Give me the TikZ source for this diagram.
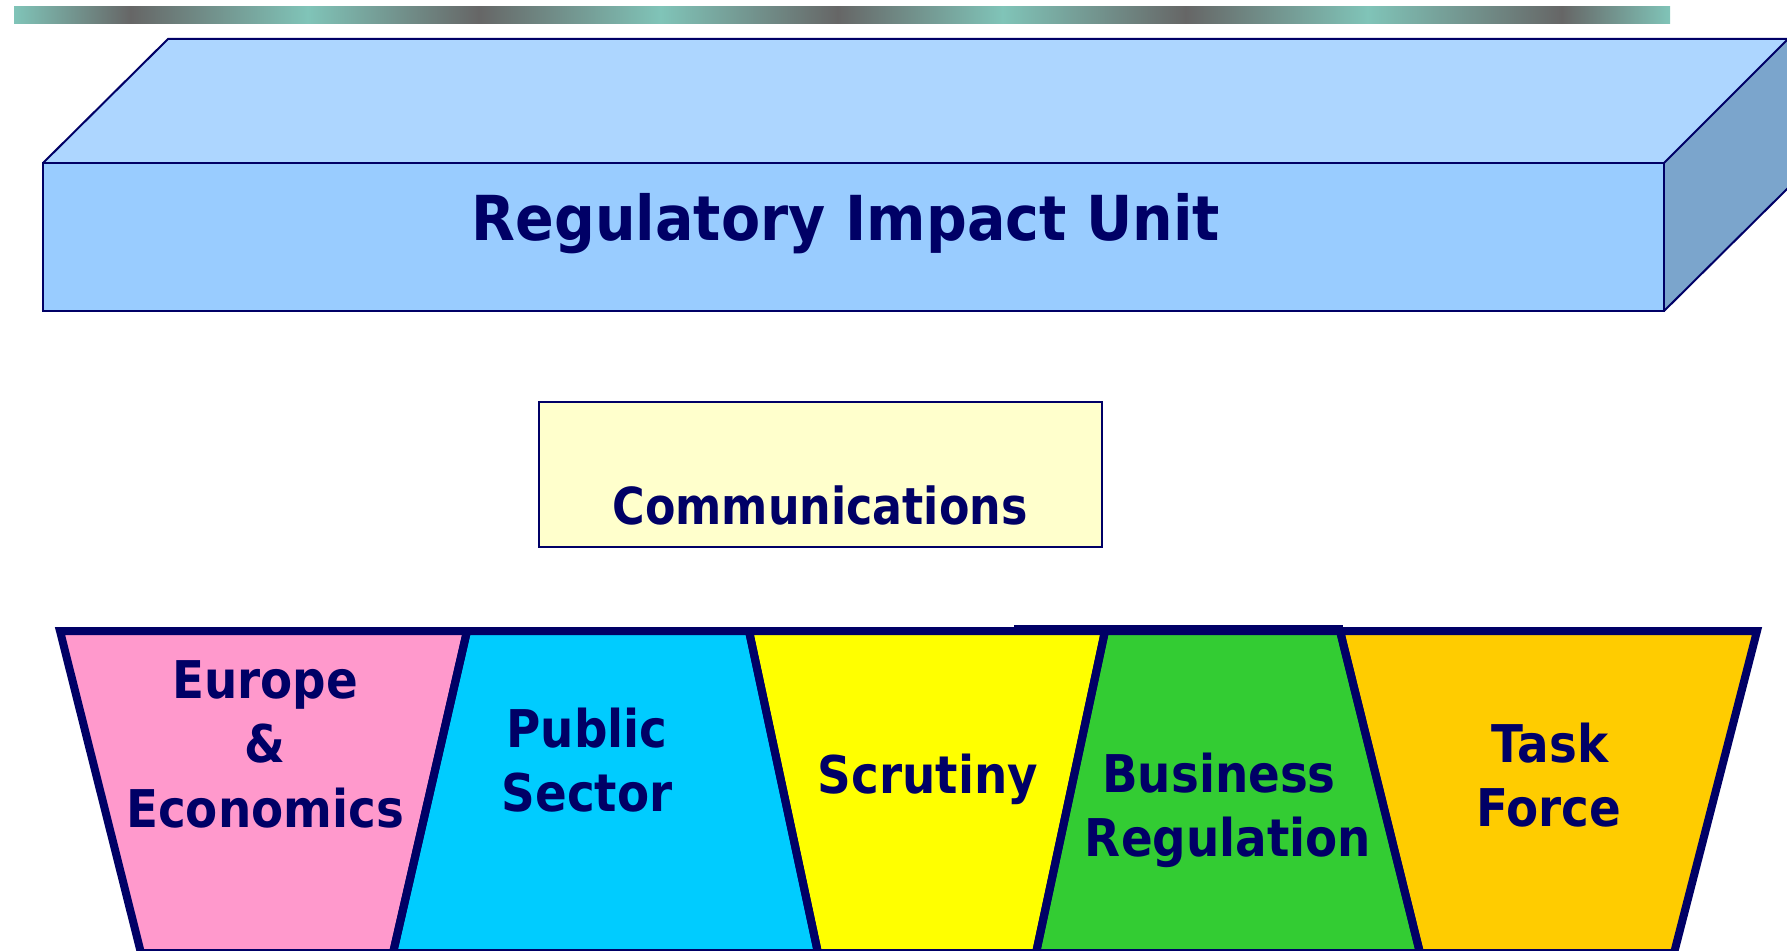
\documentclass[tikz,border=0pt]{standalone}
\usepackage{fontspec}
\newfontfamily\lblfont[FakeStretch=0.9]{DejaVu Sans Bold}
\newfontfamily\ttlfont[FakeStretch=0.92]{DejaVu Sans Bold}
\newfontfamily\comfont[FakeStretch=0.87]{DejaVu Sans Bold}
\definecolor{navy}{HTML}{000066}
\definecolor{barG}{HTML}{666666}
\definecolor{barT}{HTML}{80C4B8}
\definecolor{topc}{HTML}{ADD6FF}
\definecolor{frontc}{HTML}{99CCFF}
\definecolor{sidec}{HTML}{7BA5CC}
\definecolor{commc}{HTML}{FFFFCC}
\definecolor{pinkc}{HTML}{FF99CC}
\definecolor{cyanc}{HTML}{00CCFF}
\definecolor{yelc}{HTML}{FFFF00}
\definecolor{grnc}{HTML}{33CC33}
\definecolor{orac}{HTML}{FFCC00}
\begin{document}
\begin{tikzpicture}[x=1pt,y=-1pt,
  boxedge/.style={draw=navy,line width=2pt,line join=miter},
  tier/.style={draw=navy,line width=8pt,line join=miter},
  lbl/.style={text=navy,font=\lblfont\fontsize{52}{62}\selectfont,anchor=base,inner sep=0pt},
  ttl/.style={text=navy,font=\ttlfont\fontsize{62}{72}\selectfont,anchor=base,inner sep=0pt}]
\useasboundingbox (0,0) rectangle (1787,950);
% gradient bar
\foreach \a/\b/\ca/\cb in {14/131/barT/barG,130.5/308/barG/barT,307.5/479/barT/barG,478.5/661/barG/barT,660.5/838/barT/barG,837.5/1003/barG/barT,1002.5/1186/barT/barG,1185.5/1368/barG/barT,1367.5/1562/barT/barG,1561.5/1670/barG/barT}
  \shade[left color=\ca,right color=\cb] (\a,7) rectangle (\b,24);
% 3D box
\fill[topc] (43,163) -- (168,39) -- (1788,39) -- (1664,163) -- cycle;
\fill[frontc] (43,163) rectangle (1664,311);
\fill[sidec] (1664,163) -- (1788,39) -- (1788,188) -- (1664,311) -- cycle;
\draw[boxedge] (43,163) -- (168,39) -- (1788,39);
\draw[boxedge] (43,163) rectangle (1664,311);
\draw[boxedge] (1664,163) -- (1788,39);
\draw[boxedge] (1664,311) -- (1788,188);
\node[ttl] (title) at (846,240) {Regulatory Impact Unit};
% communications
\draw[draw=navy,fill=commc,line width=1.5pt] (539,402) rectangle (1102,547);
\node[lbl,font=\comfont\fontsize{51}{60}\selectfont] (comm) at (820,524) {Communications};
% tiers
\fill[pinkc] (60,631) -- (467,631) -- (393,953) -- (141,953) -- cycle;
\fill[cyanc] (467,631) -- (749,631) -- (818,953) -- (393,953) -- cycle;
\fill[yelc] (749,631) -- (1105,631) -- (1036,953) -- (818,953) -- cycle;
\fill[grnc] (1105,631) -- (1340,631) -- (1420,953) -- (1036,953) -- cycle;
\fill[orac] (1340,631) -- (1757,631) -- (1674,953) -- (1420,953) -- cycle;
\draw[tier] (60,631) -- (467,631) -- (393,953) -- (141,953) -- cycle;
\draw[tier] (467,631) -- (749,631) -- (818,953) -- (393,953) -- cycle;
\draw[tier] (749,631) -- (1105,631) -- (1036,953) -- (818,953) -- cycle;
\draw[tier] (1105,631) -- (1340,631) -- (1420,953) -- (1036,953) -- cycle;
\draw[tier] (1340,631) -- (1757,631) -- (1674,953) -- (1420,953) -- cycle;
\fill[navy] (1014,625) rectangle (1343,633);
% labels
\node[lbl] (eu1) at (265,698) {Europe};
\node[lbl] (eu2) at (265,762) {\&};
\node[lbl] (eu3) at (265,827) {Economics};
\node[lbl] (ps1) at (587,747) {Public};
\node[lbl] (ps2) at (587,811) {Sector};
\node[lbl] (scr) at (928,793) {Scrutiny};
\node[lbl] (br1) at (1219,792) {Business};
\node[lbl] (br2) at (1228,856) {Regulation};
\node[lbl] (tf1) at (1550,762) {Task};
\node[lbl] (tf2) at (1549,826) {Force};
\end{tikzpicture}
\end{document}
